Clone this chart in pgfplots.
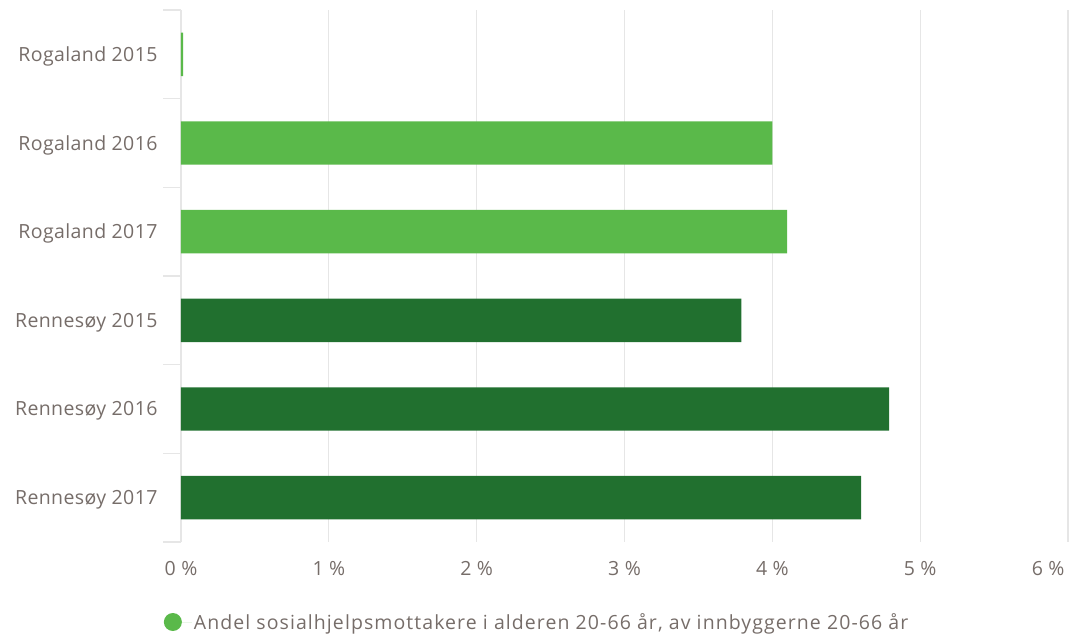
\documentclass[border=0pt]{standalone}
\usepackage{pgfplots}
\pgfplotsset{compat=1.18}
\usepackage{fontspec}
\setmainfont{Open Sans}
\definecolor{lightgr}{HTML}{5AB94A}
\definecolor{darkgr}{HTML}{21702F}
\definecolor{txtgray}{HTML}{766D69}
\definecolor{gridgray}{HTML}{E6E6E6}
\begin{document}
\begin{tikzpicture}
\path[use as bounding box] (-181pt,-97pt) rectangle (893pt,542pt);
\begin{axis}[
  at={(0,0)}, anchor=south west,
  scale only axis, width=887pt, height=532pt,
  xmin=0, xmax=6, ymin=-0.5, ymax=5.5, y dir=reverse,
  xtick={0,1,2,3,4,5},
  xticklabel={\pgfmathprintnumber{\tick}~\%},
  /pgf/number format/assume math mode=true,
  extra x ticks={6},
  extra x tick style={xticklabel style={anchor=north east, xshift=0pt}},
  ytick={0,1,2,3,4,5},
  yticklabels={Rogaland 2015,Rogaland 2016,Rogaland 2017,Rennesøy 2015,Rennesøy 2016,Rennesøy 2017},
  minor ytick={-0.5,0.5,1.5,2.5,3.5,4.5,5.5},
  major tick length=0pt,
  minor tick length=18pt,
  tick align=outside,
  every minor tick/.style={draw=gridgray, line width=1.2pt},
  ymajorgrids=false, xmajorgrids=true,
  major grid style={draw=gridgray, line width=1.2pt},
  axis line style={draw=none},
  axis x line*=bottom, axis y line*=left,
  ticklabel style={font=\fontsize{19.5}{23}\selectfont\addfontfeature{LetterSpace=2}, text=txtgray},
  xticklabel style={yshift=-16pt},
  yticklabel style={xshift=-20pt, yshift=-2pt},
  xbar, bar width=0.49, bar shift=0pt,
  legend style={at={(axis description cs:0.4014,-0.1504)}, anchor=center, draw=none, fill=none,
    font=\fontsize{19.5}{23}\selectfont\addfontfeature{LetterSpace=5.5}, text=txtgray, legend columns=1},
  legend image code/.code={\fill[lightgr] (9pt,0pt) circle (9pt); \path (0pt,0pt) -- (28pt,0pt);},
  legend cell align=left,
]
\addplot[fill=lightgr, draw=none] coordinates {(0.015,0) (4.0,1) (4.1,2)};
\addlegendentry{Andel sosialhjelpsmottakere i alderen 20-66 år, av innbyggerne 20-66 år}
\addplot[fill=darkgr, draw=none, forget plot] coordinates {(3.79,3) (4.79,4) (4.6,5)};
\end{axis}
\end{tikzpicture}
\end{document}
